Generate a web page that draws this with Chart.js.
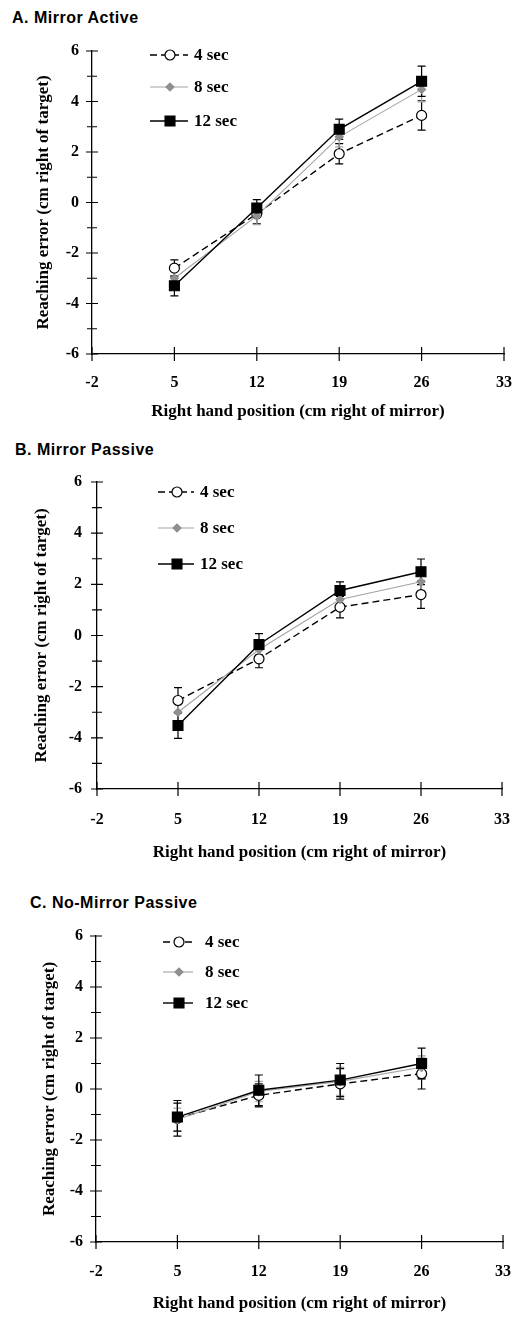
<!DOCTYPE html>
<html>
<head>
<meta charset="utf-8">
<script src="https://cdn.jsdelivr.net/npm/chart.js@4.4.1/dist/chart.umd.min.js"></script>
<style>
  body { margin: 0; background: #fff; width: 531px; height: 1317px; position: relative; overflow: hidden; }
  .panel-title { position: absolute; font: bold 16px "Liberation Sans", Arial, sans-serif; letter-spacing: 0.5px; line-height: 16px; color: #000; white-space: nowrap; }
  canvas { position: absolute; left: 0; }
</style>
</head>
<body>
<div class="panel-title" style="left:12px;top:10px">A. Mirror Active</div>
<div class="panel-title" style="left:15px;top:442px">B. Mirror Passive</div>
<div class="panel-title" style="left:30px;top:895px">C. No-Mirror Passive</div>
<canvas id="chartA" width="531" height="425" style="top:0px"></canvas>
<canvas id="chartB" width="531" height="440" style="top:425px"></canvas>
<canvas id="chartC" width="531" height="452" style="top:865px"></canvas>
<script>
// hand positions (cm right of mirror)
const positions = [5, 12, 19, 26];
const seriesNames = ['4 sec', '8 sec', '12 sec'];
const xTicks = [-2, 5, 12, 19, 26, 33];
const yTicks = [-6, -4, -2, 0, 2, 4, 6];

// A. Mirror Active
const activeMean4 = [-2.6, -0.45, 1.93, 3.45];
const activeMean8 = [-3.0, -0.53, 2.6, 4.48];
const activeMean12 = [-3.3, -0.22, 2.9, 4.8];
const activeErr4 = [0.33, 0.4, 0.4, 0.58];
const activeErr8 = [0.3, 0.35, 0.4, 0.5];
const activeErr12 = [0.4, 0.33, 0.4, 0.6];

// B. Mirror Passive
const passiveMean4 = [-2.54, -0.91, 1.11, 1.6];
const passiveMean8 = [-3.0, -0.55, 1.41, 2.1];
const passiveMean12 = [-3.52, -0.35, 1.76, 2.49];
const passiveErr4 = [0.5, 0.35, 0.42, 0.54];
const passiveErr8 = [0.4, 0.35, 0.35, 0.45];
const passiveErr12 = [0.5, 0.42, 0.34, 0.5];

// C. No-Mirror Passive
const noMirrorMean4 = [-1.15, -0.25, 0.2, 0.6];
const noMirrorMean8 = [-1.2, -0.1, 0.3, 0.85];
const noMirrorMean12 = [-1.1, -0.05, 0.35, 1.0];
const noMirrorErr4 = [0.7, 0.45, 0.6, 0.6];
const noMirrorErr8 = [0.45, 0.4, 0.55, 0.45];
const noMirrorErr12 = [0.55, 0.6, 0.65, 0.6];

const serif = '"Liberation Serif", "Times New Roman", serif';
const tickFont = { family: serif, size: 16, weight: 'bold' };
const axisTitleFont = { family: serif, size: 17, weight: 'bold' };
const legendFont = 'bold 17px ' + serif;

const styles = [
  { borderColor: '#000', pointBackgroundColor: '#fff', pointBorderColor: '#000', pointStyle: 'circle', pointRadius: 5, borderDash: [7, 4], borderWidth: 1.4, order: 2 },
  { borderColor: '#a3a3a3', pointBackgroundColor: '#8f8f8f', pointBorderColor: '#8f8f8f', pointStyle: 'rectRot', pointRadius: 4, borderDash: [], borderWidth: 1.1, order: 1 },
  { borderColor: '#000', pointBackgroundColor: '#000', pointBorderColor: '#000', pointStyle: 'rect', pointRadius: 7, borderDash: [], borderWidth: 1.4, order: 0 }
];

// error bars drawn under the markers
const errorBars = {
  id: 'errorBars',
  beforeDatasetsDraw(chart) {
    const { ctx, scales: { x, y } } = chart;
    chart.data.datasets.forEach(ds => {
      ctx.save();
      ctx.strokeStyle = ds.borderColor;
      ctx.lineWidth = 1.2;
      ds.data.forEach((p, i) => {
        const px = x.getPixelForValue(p.x);
        const top = y.getPixelForValue(p.y + ds.errors[i]);
        const bot = y.getPixelForValue(p.y - ds.errors[i]);
        ctx.beginPath();
        ctx.moveTo(px, top); ctx.lineTo(px, bot);
        ctx.moveTo(px - 4, top); ctx.lineTo(px + 4, top);
        ctx.moveTo(px - 4, bot); ctx.lineTo(px + 4, bot);
        ctx.stroke();
      });
      ctx.restore();
    });
  }
};

// tick marks crossing both axes, minor ticks on odd y values
const crossTicks = {
  id: 'crossTicks',
  afterDraw(chart) {
    const { ctx, scales: { x, y }, chartArea } = chart;
    ctx.save();
    ctx.strokeStyle = '#000';
    ctx.lineWidth = 1.2;
    ctx.beginPath();
    for (let v = y.min; v <= y.max; v++) {
      const py = y.getPixelForValue(v);
      const half = v % 2 === 0 ? 6 : 5;
      ctx.moveTo(chartArea.left - half, py); ctx.lineTo(chartArea.left + half, py);
    }
    xTicks.forEach(v => {
      const px = x.getPixelForValue(v);
      ctx.moveTo(px, chartArea.bottom - 7); ctx.lineTo(px, chartArea.bottom + 7);
    });
    ctx.stroke();
    ctx.restore();
  }
};

const insideLegend = {
  id: 'insideLegend',
  afterDraw(chart) {
    const L = chart.options.plugins.insideLegend;
    const { ctx, chartArea } = chart;
    chart.data.datasets.forEach((ds, i) => {
      const y0 = chartArea.top + L.rows[i];
      const x0 = chartArea.left + L.x;
      ctx.save();
      ctx.strokeStyle = ds.borderColor;
      ctx.lineWidth = ds.borderWidth;
      ctx.setLineDash(ds.borderDash);
      ctx.beginPath();
      ctx.moveTo(x0, y0); ctx.lineTo(x0 + L.len, y0);
      ctx.stroke();
      ctx.setLineDash([]);
      ctx.fillStyle = ds.pointBackgroundColor;
      ctx.strokeStyle = ds.pointBorderColor;
      ctx.lineWidth = 1.2;
      Chart.helpers.drawPoint(ctx, { pointStyle: ds.pointStyle, radius: ds.pointRadius, rotation: 0, borderWidth: 1.2 }, x0 + L.len / 2 + 1, y0);
      ctx.fillStyle = '#000';
      ctx.font = legendFont;
      ctx.textAlign = 'left';
      ctx.textBaseline = 'middle';
      ctx.fillText(seriesNames[i], x0 + L.len + L.gap, y0 + 1);
      ctx.restore();
    });
  }
};

function makePanel(id, means, errs, L) {
  const datasets = means.map((m, i) => Object.assign({
    label: seriesNames[i],
    data: positions.map((x, j) => ({ x: x, y: m[j] })),
    errors: errs[i],
    fill: false,
    tension: 0,
    pointBorderWidth: 1.2,
    pointHoverRadius: 6
  }, styles[i]));

  new Chart(document.getElementById(id), {
    type: 'line',
    data: { datasets: datasets },
    options: {
      responsive: false,
      animation: false,
      layout: { padding: { top: L.top, left: 0, right: L.right, bottom: 0 } },
      plugins: {
        legend: { display: false },
        tooltip: { enabled: false },
        insideLegend: L.legend
      },
      scales: {
        x: {
          type: 'linear',
          min: -2, max: 33,
          afterBuildTicks: s => { s.ticks = xTicks.map(v => ({ value: v })); },
          afterFit: s => { s.height = L.xHeight; },
          ticks: { font: tickFont, color: '#000', padding: L.xTickPad, maxRotation: 0, autoSkip: false, callback: v => String(v) },
          grid: { drawOnChartArea: false, drawTicks: false },
          border: { color: '#000', width: 1.3 },
          title: { display: true, text: 'Right hand position (cm right of mirror)', font: axisTitleFont, color: '#000', padding: { top: 0, bottom: L.xTitlePad } }
        },
        y: {
          min: -6, max: 6,
          afterBuildTicks: s => { s.ticks = yTicks.map(v => ({ value: v })); },
          afterFit: s => { s.width = L.left; },
          ticks: { font: tickFont, color: '#000', padding: L.yTickPad, callback: v => String(v) },
          grid: { drawOnChartArea: false, drawTicks: false },
          border: { color: '#000', width: 1.3 },
          title: { display: true, text: 'Reaching error (cm right of target)', font: axisTitleFont, color: '#000', padding: { top: L.yTitlePad, bottom: 0 } }
        }
      }
    },
    plugins: [errorBars, crossTicks, insideLegend]
  });
}

makePanel('chartA', [activeMean4, activeMean8, activeMean12], [activeErr4, activeErr8, activeErr12], {
  top: 51, right: 23, left: 92, xHeight: 71, xTickPad: 19, xTitlePad: 3, yTickPad: 13, yTitlePad: 33,
  legend: { x: 58, len: 38, gap: 6, rows: [4, 36, 70] }
});
makePanel('chartB', [passiveMean4, passiveMean8, passiveMean12], [passiveErr4, passiveErr8, passiveErr12], {
  top: 57, right: 21, left: 97, xHeight: 76, xTickPad: 21, xTitlePad: 2, yTickPad: 15, yTitlePad: 31,
  legend: { x: 61, len: 36, gap: 6, rows: [10, 46, 82] }
});
makePanel('chartC', [noMirrorMean4, noMirrorMean8, noMirrorMean12], [noMirrorErr4, noMirrorErr8, noMirrorErr12], {
  top: 71, right: 19, left: 96, xHeight: 75, xTickPad: 20, xTitlePad: 3, yTickPad: 13, yTitlePad: 39,
  legend: { x: 67, len: 30, gap: 12, rows: [6, 36, 67] }
});
</script>
</body>
</html>
